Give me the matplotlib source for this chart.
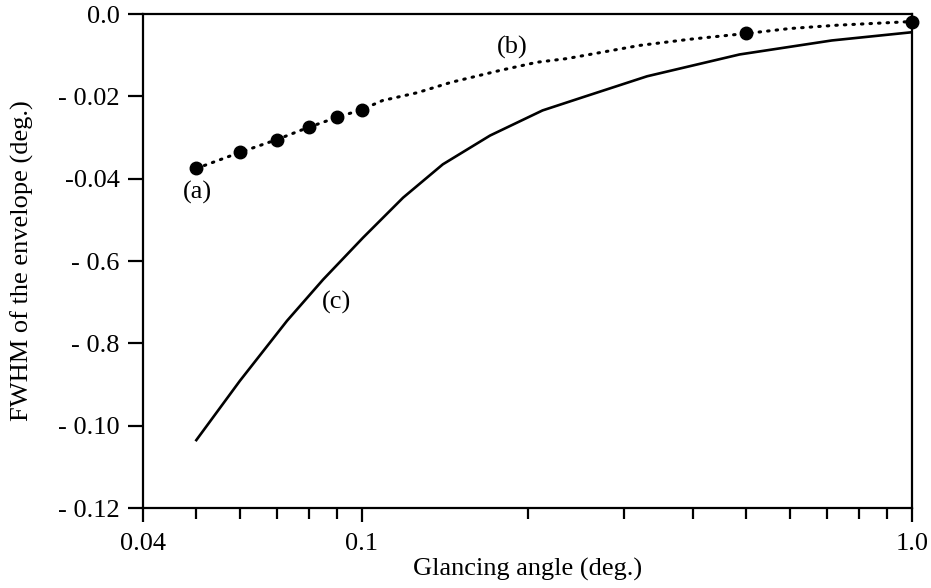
import numpy as np
import matplotlib
matplotlib.use("Agg")
import matplotlib.pyplot as plt
from matplotlib.ticker import FixedLocator, NullFormatter

plt.rcParams["font.family"] = ["Liberation Serif", "DejaVu Serif"]
plt.rcParams["font.size"] = 19

# measured points (a)
meas_x = [0.05, 0.06, 0.07, 0.08, 0.09, 0.1, 0.5, 1.0]
meas_y = [-0.0375, -0.0336, -0.0305, -0.0275, -0.0251, -0.0232, -0.0047, -0.0018]

# dotted curve (b)
curve_b_x = [0.05, 0.06, 0.07, 0.08, 0.09, 0.1, 0.109, 0.126, 0.145, 0.178, 0.208,
             0.236, 0.32, 0.395, 0.5, 0.6, 0.73, 1.0]
curve_b_y = [-0.0375, -0.0336, -0.0305, -0.0275, -0.0251, -0.0232, -0.021, -0.0191,
             -0.0166, -0.0137, -0.0117, -0.0108, -0.0076, -0.0061, -0.0047, -0.0035,
             -0.0027, -0.0018]

# solid curve (c)
curve_c_x = [0.05, 0.06, 0.0731, 0.085, 0.1005, 0.1188, 0.1403, 0.171, 0.213,
             0.252, 0.33, 0.486, 0.715, 1.0]
curve_c_y = [-0.1035, -0.0891, -0.0745, -0.0645, -0.0543, -0.0446, -0.0365,
             -0.0295, -0.0234, -0.0202, -0.0151, -0.0098, -0.0064, -0.0044]

y_ticks = [0.0, -0.02, -0.04, -0.06, -0.08, -0.10, -0.12]
y_tick_labels = ["0.0", "- 0.02", "-0.04", "- 0.6", "- 0.8", "- 0.10", "- 0.12"]
x_ticks = [0.04, 0.1, 1.0]
x_tick_labels = ["0.04", "0.1", "1.0"]
x_minor = [0.05, 0.06, 0.07, 0.08, 0.09, 0.2, 0.3, 0.4, 0.5, 0.6, 0.7, 0.8, 0.9]

fig = plt.figure(figsize=(9.31, 5.88), dpi=100)
ax = fig.add_axes([0.1536, 0.136, 0.826, 0.840])

ax.plot(curve_c_x, curve_c_y, color="black", lw=1.9, solid_joinstyle="round")
ax.plot(curve_b_x, curve_b_y, color="black", lw=2.2,
        linestyle=(0, (0.5, 2.3)), dash_capstyle="round")
ax.plot(meas_x, meas_y, "o", color="black", ms=9, clip_on=False, zorder=5)

ax.text(0.0502, -0.0434, "(a)", ha="center", va="center")
ax.text(0.1875, -0.0081, "(b)", ha="center", va="center")
ax.text(0.09, -0.0701, "(c)", ha="center", va="center")

ax.set_xscale("log")
ax.set_xlim(0.04, 1.0)
ax.set_ylim(-0.12, 0.0)
ax.xaxis.set_major_locator(FixedLocator(x_ticks))
ax.set_xticklabels(x_tick_labels)
ax.xaxis.set_minor_locator(FixedLocator(x_minor))
ax.xaxis.set_minor_formatter(NullFormatter())
ax.set_yticks(y_ticks)
ax.set_yticklabels(y_tick_labels)

ax.tick_params(axis="both", which="both", direction="out", width=1.6, labelsize=19)
ax.tick_params(axis="y", which="major", length=11, pad=6)
ax.tick_params(axis="x", which="major", length=10, pad=8)
ax.tick_params(axis="x", which="minor", length=8)
for s in ax.spines.values():
    s.set_linewidth(1.6)

ax.set_xlabel("Glancing angle (deg.)", fontsize=19, labelpad=2)
ax.set_ylabel("FWHM of the envelope (deg.)", fontsize=19, labelpad=17)

fig.savefig("out.png", dpi=100)
